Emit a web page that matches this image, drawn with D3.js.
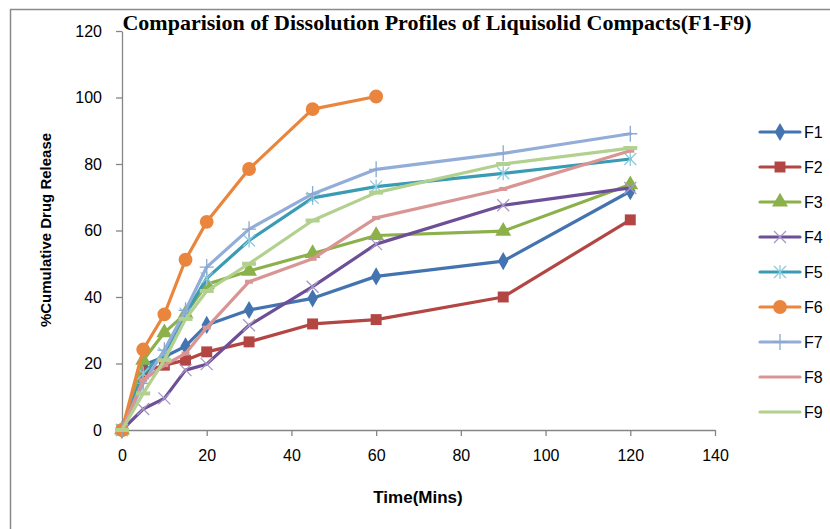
<!DOCTYPE html>
<html>
<head>
<meta charset="utf-8">
<script src="https://cdn.jsdelivr.net/npm/d3@7"></script>
<style>
  html, body { margin: 0; padding: 0; background: #fff; }
  svg { display: block; }
</style>
</head>
<body>
<svg id="chart" width="830" height="529"></svg>
<script>
// Sampling times (minutes)
const times = [0, 5, 10, 15, 20, 30, 45, 60, 90, 120];

// Cumulative drug release (%) for each formulation
const F1 = [0, 19.5, 22, 25.2, 31.6, 36.1, 39.6, 46.2, 50.8, 71.8];
const F2 = [0, 17.5, 19.5, 21, 23.5, 26.5, 31.9, 33.2, 40, 63.2];
const F3 = [0, 21, 29.3, 35, 43.8, 47.8, 53.1, 58.5, 59.8, 73.8];
const F4 = [0, 6.3, 9.5, 18, 19.8, 31.5, 43.1, 55.9, 67.6, 72.8];
const F5 = [0, 17, 23, 35, 45.6, 57, 69.8, 73.2, 77.2, 81.5];
const F6 = [0, 24.2, 34.8, 51.2, 62.6, 78.5, 96.5, 100.3];
const F7 = [0, 14, 24, 36, 49, 60.4, 71, 78.4, 83.2, 89.1];
const F8 = [0, 15, 19.5, 23, 30.8, 44.6, 51.5, 63.8, 72.5, 84];
const F9 = [0, 11, 21, 33.4, 41.8, 50, 63, 71.4, 80, 84.8];

const seriesNames = ["F1", "F2", "F3", "F4", "F5", "F6", "F7", "F8", "F9"];
const seriesValues = [F1, F2, F3, F4, F5, F6, F7, F8, F9];

const xTicks = [0, 20, 40, 60, 80, 100, 120, 140];
const yTicks = [0, 20, 40, 60, 80, 100, 120];

const titleText = "Comparision of Dissolution Profiles of Liquisolid Compacts(F1-F9)";
const xTitle = "Time(Mins)";
const yTitle = "%Cumulative Drug Release";

// Line colours and marker styling per series
const lineColors = ["#4474B0", "#B34543", "#8CB04A", "#6D4F97", "#3A9BB4", "#E9853C", "#92AED8", "#D99593", "#B2D08E"];
const markerColors = ["#4474B0", "#B34543", "#8CB04A", "#A898C8", "#8CCBDD", "#E9853C", "#8AA8D2", "#D99593", "#B2D08E"];
const markerTypes = ["diamond", "square", "triangle", "x", "star", "circle", "plus", "dash", "longdash"];

const svg = d3.select("#chart");
const W = 830, H = 529;

// Outer chart frame
svg.append("rect")
  .attr("x", 10.5).attr("y", 9.5)
  .attr("width", W + 20).attr("height", H + 20)
  .attr("fill", "none").attr("stroke", "#8a8a8a").attr("stroke-width", 1.5);

const plot = { left: 122, right: 715, top: 31, bottom: 430 };

const x = d3.scaleLinear().domain([0, 140]).range([plot.left, plot.right]);
const y = d3.scaleLinear().domain([0, 120]).range([plot.bottom, plot.top]);

const axisColor = "#868686";
const tickFont = "'Liberation Sans', Arial, sans-serif";

// X axis
const xAxis = svg.append("g")
  .attr("transform", `translate(0,${plot.bottom})`)
  .call(d3.axisBottom(x).tickValues(xTicks).tickSize(6).tickPadding(14).tickSizeOuter(0));
// Y axis
const yAxis = svg.append("g")
  .attr("transform", `translate(${plot.left},0)`)
  .call(d3.axisLeft(y).tickValues(yTicks).tickSize(6).tickPadding(14).tickSizeOuter(0));

[xAxis, yAxis].forEach(g => {
  g.select(".domain").attr("stroke", axisColor).attr("stroke-width", 1.3);
  g.selectAll(".tick line").attr("stroke", axisColor).attr("stroke-width", 1.3);
  g.selectAll(".tick text")
    .attr("fill", "#000")
    .style("font-family", tickFont)
    .style("font-size", "16px");
});

// Marker path generators
function markerPath(type) {
  switch (type) {
    case "diamond": return d3.symbol().type(d3.symbolDiamond).size(95)();
    case "square": return d3.symbol().type(d3.symbolSquare).size(120)();
    case "triangle": return d3.symbol().type(d3.symbolTriangle).size(110)();
    case "circle": return d3.symbol().type(d3.symbolCircle).size(150)();
    case "x": return "M-6,-6L6,6M-6,6L6,-6";
    case "star": return "M-6,-6L6,6M-6,6L6,-6M0,-7L0,7";
    case "plus": return "M-7,0L7,0M0,-8L0,8";
    case "dash": return "M-4,0L4,0";
    case "longdash": return "M-7,0L7,0";
  }
}
const filledTypes = new Set(["diamond", "square", "triangle", "circle"]);

function drawMarker(g, type, color) {
  const p = g.append("path").attr("d", markerPath(type));
  if (filledTypes.has(type)) {
    p.attr("fill", color).attr("stroke", "none");
  } else {
    const w = (type === "dash" || type === "longdash") ? 4 : 1.3;
    p.attr("fill", "none").attr("stroke", color).attr("stroke-width", w);
  }
}

const line = d3.line().x(d => x(d[0])).y(d => y(d[1]));

seriesValues.forEach((vals, i) => {
  const pts = vals.map((v, k) => [times[k], v]);
  const g = svg.append("g");
  g.append("path")
    .datum(pts)
    .attr("d", line)
    .attr("fill", "none")
    .attr("stroke", lineColors[i])
    .attr("stroke-width", 3.2)
    .attr("stroke-linejoin", "round")
    .attr("stroke-linecap", "round");
  pts.forEach(p => {
    const m = g.append("g").attr("transform", `translate(${x(p[0])},${y(p[1])})`);
    drawMarker(m, markerTypes[i], markerColors[i]);
  });
});

// Legend
const legend = svg.append("g");
seriesNames.forEach((name, i) => {
  const ly = 132 + i * 35;
  const item = legend.append("g");
  item.append("line")
    .attr("x1", 760).attr("x2", 800)
    .attr("y1", ly).attr("y2", ly)
    .attr("stroke", lineColors[i]).attr("stroke-width", 3.2)
    .attr("stroke-linecap", "round");
  if (markerTypes[i] !== "dash" && markerTypes[i] !== "longdash") {
    const m = item.append("g").attr("transform", `translate(780,${ly})`);
    drawMarker(m, markerTypes[i], markerColors[i]);
  }
  item.append("text")
    .attr("x", 804).attr("y", ly)
    .attr("dy", "0.36em")
    .style("font-family", tickFont)
    .style("font-size", "16px")
    .attr("fill", "#000")
    .text(name);
});

// Title
svg.append("text")
  .attr("x", 437).attr("y", 30)
  .attr("text-anchor", "middle")
  .style("font-family", "'Liberation Serif', 'Times New Roman', serif")
  .style("font-weight", "bold")
  .style("font-size", "22px")
  .text(titleText);

// Axis titles
svg.append("text")
  .attr("x", 418).attr("y", 503)
  .attr("text-anchor", "middle")
  .style("font-family", tickFont)
  .style("font-weight", "bold")
  .style("font-size", "17px")
  .text(xTitle);

svg.append("text")
  .attr("transform", "translate(51,230) rotate(-90)")
  .attr("text-anchor", "middle")
  .style("font-family", tickFont)
  .style("font-weight", "bold")
  .style("font-size", "15px")
  .text(yTitle);
</script>
</body>
</html>
